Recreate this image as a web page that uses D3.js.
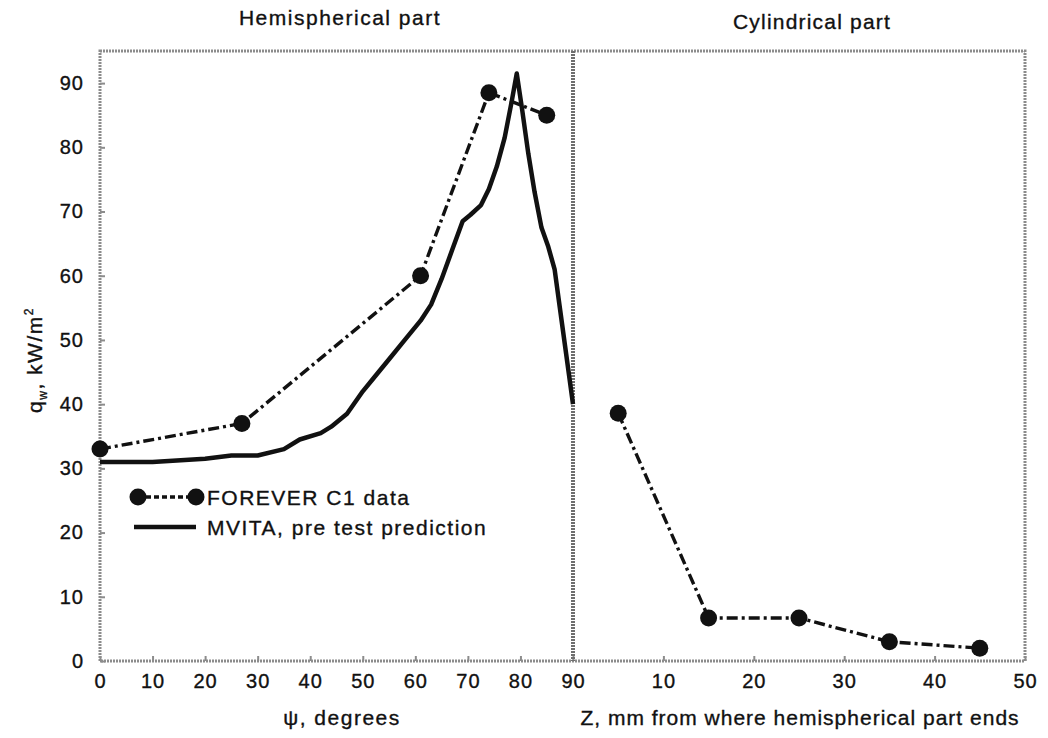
<!DOCTYPE html>
<html>
<head>
<meta charset="utf-8">
<script src="https://cdn.jsdelivr.net/npm/d3@7"></script>
<style>
  body { margin: 0; background: #fff; }
  svg { display: block; }
  text { font-family: "Liberation Sans", Arial, sans-serif; fill: #111; stroke: #111; stroke-width: 0.35px; }
</style>
</head>
<body>
<svg id="chart" width="1048" height="738"></svg>
<script>
// Heat flux along the vessel wall: measured (FOREVER C1) vs MVITA prediction

// Hemispherical part, angle psi in degrees
const hemiPsi = [0, 27, 61, 74, 85];
const hemiFlux = [33, 37, 60, 88.5, 85];

// MVITA pre-test prediction over the hemisphere
const mvitaPsi = [0, 10, 20, 25, 30, 35, 38, 42, 44, 47, 50, 52, 55, 58, 61, 63, 65, 67, 69, 70.5, 72.5, 74, 75.5, 77, 78.3, 79.3, 80.3, 81.5, 82.7, 84, 85.3, 86.5, 87.5, 88.5, 90];
const mvitaFlux = [31, 31, 31.5, 32, 32, 33, 34.5, 35.5, 36.5, 38.5, 42, 44, 47, 50, 53, 55.5, 59.5, 64, 68.5, 69.5, 71, 73.5, 77, 81.5, 87, 91.5, 86, 79, 73, 67.5, 64.5, 61, 55, 49, 40];

// Cylindrical part, distance Z in mm from where the hemisphere ends
const cylZ = [5, 15, 25, 35, 45];
const cylFlux = [38.6, 6.7, 6.7, 3.0, 2.0];

// Tick labels
const yTicks = [0, 10, 20, 30, 40, 50, 60, 70, 80, 90];
const psiTicks = [0, 10, 20, 30, 40, 50, 60, 70, 80, 90];
const zTicks = [10, 20, 30, 40, 50];

const svg = d3.select("#chart");

const plotTop = 51, plotBottom = 661;
const plotLeft = 100, plotMid = 573, plotRight = 1025;

const y = d3.scaleLinear().domain([0, 95]).range([plotBottom, plotTop]);
const xPsi = d3.scaleLinear().domain([0, 90]).range([plotLeft, plotMid]);
const xZ = d3.scaleLinear().domain([0, 50]).range([plotMid, plotRight]);

const frameColor = "#8c8c8c";

// Axes with short inward ticks
const gY = svg.append("g").attr("transform", `translate(${plotLeft},0)`)
  .call(d3.axisLeft(y).tickValues(yTicks).tickSize(-5).tickPadding(16));
const gPsi = svg.append("g").attr("transform", `translate(0,${plotBottom})`)
  .call(d3.axisBottom(xPsi).tickValues(psiTicks).tickSize(-5).tickPadding(13));
const gZ = svg.append("g").attr("transform", `translate(0,${plotBottom})`)
  .call(d3.axisBottom(xZ).tickValues(zTicks).tickSize(-5).tickPadding(13));

[gY, gPsi, gZ].forEach(g => {
  g.select(".domain").remove();
  g.selectAll(".tick line").attr("stroke", frameColor).attr("stroke-width", 2);
  g.selectAll(".tick text")
    .attr("font-size", "20px").attr("letter-spacing", "1px")
    .attr("font-family", "Liberation Sans, Arial, sans-serif")
    .attr("fill", "#111");
});

// Plot frame and the divider between the two parts
svg.append("rect")
  .attr("x", plotLeft).attr("y", plotTop)
  .attr("width", plotRight - plotLeft).attr("height", plotBottom - plotTop)
  .attr("fill", "none").attr("stroke", frameColor).attr("stroke-width", 3)
  .attr("stroke-dasharray", "2,1");
svg.append("line")
  .attr("x1", plotMid).attr("x2", plotMid).attr("y1", plotTop).attr("y2", plotBottom)
  .attr("stroke", "#6e6e6e").attr("stroke-width", 4)
  .attr("stroke-dasharray", "2,1");

// MVITA prediction (solid)
const lineHemi = d3.line().x((d, i) => xPsi(mvitaPsi[i])).y(d => y(d));
svg.append("path")
  .datum(mvitaFlux)
  .attr("d", lineHemi)
  .attr("fill", "none").attr("stroke", "#111")
  .attr("stroke-width", 4.5).attr("stroke-linejoin", "round");

// FOREVER C1 data (dash-dot with filled markers)
const dash = "11,4,3,4";
const dataHemi = hemiPsi.map((p, i) => [xPsi(p), y(hemiFlux[i])]);
const dataCyl = cylZ.map((z, i) => [xZ(z), y(cylFlux[i])]);
[dataHemi, dataCyl].forEach(pts => {
  svg.append("path")
    .attr("d", d3.line()(pts))
    .attr("fill", "none").attr("stroke", "#111")
    .attr("stroke-width", 3.4).attr("stroke-dasharray", dash);
  svg.selectAll(null).data(pts).enter().append("circle")
    .attr("cx", d => d[0]).attr("cy", d => d[1]).attr("r", 8.5)
    .attr("fill", "#111");
});

// Shared style for the larger labels
const label = (x, yy, txt, size, ls) => svg.append("text")
  .attr("x", x).attr("y", yy).attr("text-anchor", "middle")
  .attr("font-size", size).attr("letter-spacing", ls).text(txt);

// Panel titles
label(340, 25, "Hemispherical part", "21px", "1.5px");
label(812, 29, "Cylindrical part", "21px", "1.2px");

// Axis titles
label(342, 725, "ψ, degrees", "21px", "1.5px");
label(800, 725, "Z, mm from where hemispherical part ends", "21px", "1px");

const yl = svg.append("text")
  .attr("transform", "translate(42,360) rotate(-90)")
  .attr("text-anchor", "middle").attr("font-size", "21px").attr("letter-spacing", "1.5px");
yl.append("tspan").text("q");
yl.append("tspan").attr("font-size", "12px").attr("dy", 5).text("w");
yl.append("tspan").attr("dy", -5).text(", kW/m");
yl.append("tspan").attr("font-size", "12px").attr("dy", -9).text("2");

// Legend
const lg = svg.append("g");
const l1y = 497, l2y = 527;
lg.append("line").attr("x1", 138).attr("x2", 196).attr("y1", l1y).attr("y2", l1y)
  .attr("stroke", "#111").attr("stroke-width", 3.4).attr("stroke-dasharray", "5,3");
lg.append("circle").attr("cx", 138).attr("cy", l1y).attr("r", 8.5).attr("fill", "#111");
lg.append("circle").attr("cx", 196).attr("cy", l1y).attr("r", 8.5).attr("fill", "#111");
lg.append("text").attr("x", 207).attr("y", l1y + 8).attr("font-size", "21px")
  .attr("letter-spacing", "1.5px").text("FOREVER C1 data");
lg.append("line").attr("x1", 134).attr("x2", 196).attr("y1", l2y).attr("y2", l2y)
  .attr("stroke", "#111").attr("stroke-width", 4.5);
lg.append("text").attr("x", 207).attr("y", l2y + 8).attr("font-size", "21px")
  .attr("letter-spacing", "1.5px").text("MVITA, pre test prediction");
</script>
</body>
</html>
